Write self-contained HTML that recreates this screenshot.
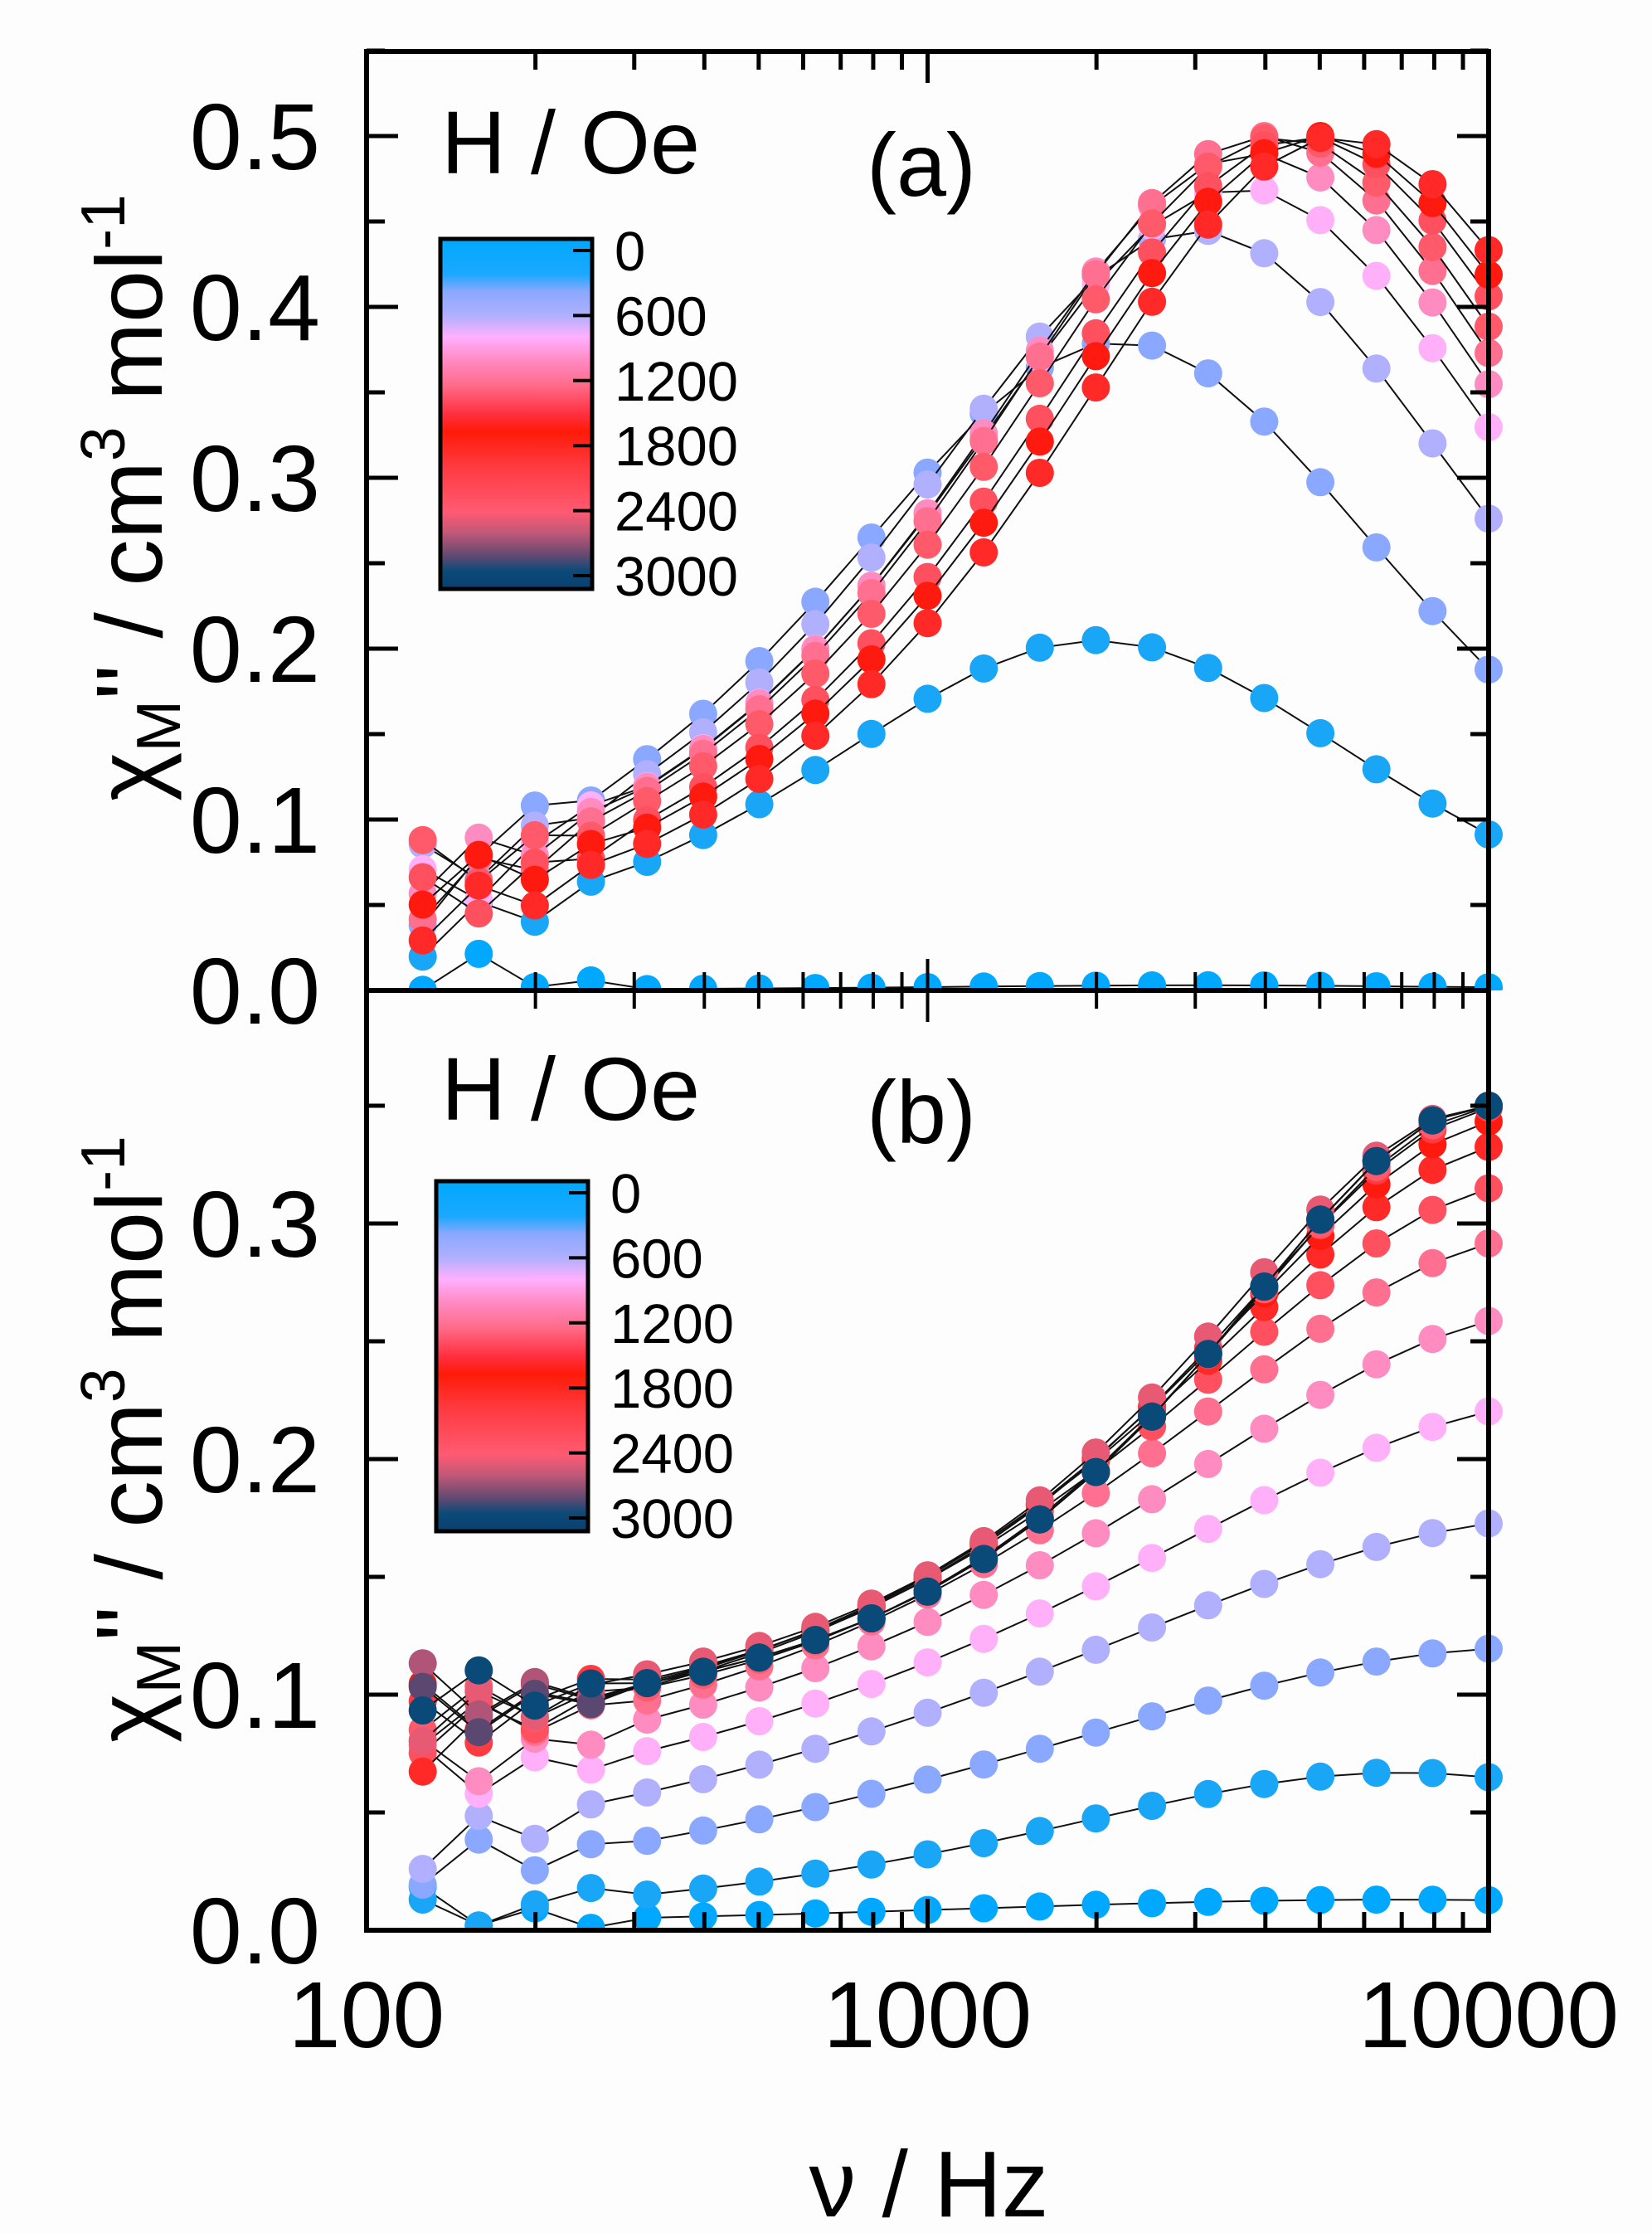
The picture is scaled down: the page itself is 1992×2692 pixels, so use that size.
<!DOCTYPE html>
<html><head><meta charset="utf-8"><style>
html,body{margin:0;padding:0;background:#fdfdfd;}
svg{display:block;font-family:"Liberation Sans",Arial,sans-serif;}
</style></head><body>
<svg id="s" width="1992" height="2692" viewBox="0 0 1992 2692" xmlns="http://www.w3.org/2000/svg">
<defs>
<linearGradient id="cb" x1="0" y1="0" x2="0" y2="1">
<stop offset="0" stop-color="#00a8ff"/><stop offset="0.1" stop-color="#1aa8ff"/>
<stop offset="0.15" stop-color="#8aa8ff"/><stop offset="0.22" stop-color="#b0b0ff"/>
<stop offset="0.28" stop-color="#ffb0ff"/><stop offset="0.35" stop-color="#ff88c0"/>
<stop offset="0.42" stop-color="#ff6a88"/><stop offset="0.5" stop-color="#ff3040"/>
<stop offset="0.55" stop-color="#ff1a08"/><stop offset="0.65" stop-color="#ff3a40"/>
<stop offset="0.78" stop-color="#ff5a72"/><stop offset="0.84" stop-color="#c05878"/>
<stop offset="0.9" stop-color="#6a4a70"/><stop offset="0.95" stop-color="#0a4a78"/>
<stop offset="1" stop-color="#0a4070"/>
</linearGradient>
</defs>
<g id="g"></g>
</svg>
<script>
var L=442,R=1795,T=62,M=1194,B=2327;
var g=document.getElementById('g');var out='';
function X(f){return L+(Math.log10(f)-2)/2*(R-L);}
function sech(x){return 2/(Math.exp(x)+Math.exp(-x));}
var cols=['#00a8ff','#1aa6f6','#8aa8ff','#b0b0ff','#ffb0f8','#ff8cc0','#ff7090','#ff5060','#ff2a28','#ff1a10','#ff3a40','#ff5a6a','#e85a74','#b05478','#5a4870','#0a4a78'];
function series(Y0,scale,P,fc,b,beta,col,seed,nz){
 var pts=[];
 for(var k=1;k<=20;k++){var f=Math.pow(10,2+0.1*k);
  var y=b+(P-b)*sech(beta*Math.log(f/fc));
  if(k<=4){y+=(((seed*7+k*13)%9)-4)*nz*(5-k)/4;}
  if(y<0)y=0.002;
  pts.push([X(f),Y0-y*scale]);}
 var d='M'+pts.map(function(p){return p[0].toFixed(1)+','+p[1].toFixed(1)}).join(' L');
 out+='<path d="'+d+'" fill="none" stroke="#111" stroke-width="2"/>';
 pts.forEach(function(p){ out+='<circle cx="'+p[0].toFixed(1)+'" cy="'+p[1].toFixed(1)+'" r="17" fill="'+col+'"/>';});
}
out+='<defs><clipPath id="c1"><rect x="'+L+'" y="'+T+'" width="'+(R-L+20)+'" height="'+(M-T)+'"/></clipPath><clipPath id="c2"><rect x="'+L+'" y="'+M+'" width="'+(R-L+20)+'" height="'+(B-M)+'"/></clipPath></defs>';
var sT=2060;
var tP=[0.003,0.205,0.38,0.445,0.47,0.49,0.5,0.5,0.5,0.5,0.5];
var tF=[3000,2000,2200,3000,3600,3800,4000,4300,4700,5000,5400];
var tB=[0,0.0,0.01,0.015,0.02,0.02,0.02,0.02,0.015,0.015,0.01];
var tC=[0,1,2,3,4,5,6,11,7,9,8];
out+='<g clip-path="url(#c1)">';
for(var i=0;i<tP.length;i++)series(M,sT,tP[i],tF[i],tB[i],0.9,cols[tC[i]],i,0.007);
out+='</g>';
var sB=2840;
var bP=[0.013,0.067,0.12,0.175,0.225,0.263,0.295,0.318,0.335,0.345,0.35,0.35,0.35,0.35,0.35,0.35];
var bF=[7000,7000,12000,14000,15000,14000,13000,12500,12000,11500,11000,10500,10000,10000,10000,10000];
var bBe=[0.5,0.7,0.5,0.5,0.55,0.6,0.65,0.7,0.75,0.8,0.85,0.9,0.9,0.95,0.95,0.95];
var bB=[0,0,0,0.01,0.03,0.045,0.055,0.065,0.07,0.075,0.08,0.08,0.085,0.085,0.085,0.085];
out+='<g clip-path="url(#c2)">';
for(var i=0;i<16;i++)series(B,sB,bP[i],bF[i],bB[i],bBe[i],cols[i],i+3,0.005);
out+='</g>';
out+='<rect x="'+L+'" y="'+T+'" width="'+(R-L)+'" height="'+(B-T)+'" fill="none" stroke="#000" stroke-width="6"/>';
out+='<line x1="'+L+'" y1="'+M+'" x2="'+R+'" y2="'+M+'" stroke="#000" stroke-width="6"/>';
for(var e=2;e<=3;e++)for(var m=1;m<=10;m++){var f=m*Math.pow(10,e);if(f>10000)continue;var x=X(f);var len=(m==1||m==10)?38:22;
 out+='<line x1="'+x+'" y1="'+B+'" x2="'+x+'" y2="'+(B-len)+'" stroke="#000" stroke-width="5"/>';
 out+='<line x1="'+x+'" y1="'+T+'" x2="'+x+'" y2="'+(T+len)+'" stroke="#000" stroke-width="5"/>';
 out+='<line x1="'+x+'" y1="'+M+'" x2="'+x+'" y2="'+(M-len)+'" stroke="#000" stroke-width="4"/>';
 out+='<line x1="'+x+'" y1="'+M+'" x2="'+x+'" y2="'+(M+len)+'" stroke="#000" stroke-width="4"/>';}
for(var j=0;j<=11;j++){var v=j*0.05;var y=M-v*sT;var big=j%2==0;var len=big?38:22;
 out+='<line x1="'+L+'" y1="'+y+'" x2="'+(L+len)+'" y2="'+y+'" stroke="#000" stroke-width="5"/>';
 out+='<line x1="'+R+'" y1="'+y+'" x2="'+(R-len)+'" y2="'+y+'" stroke="#000" stroke-width="5"/>';
 if(big)out+='<text x="386" y="'+(y+40)+'" font-size="113" text-anchor="end">'+v.toFixed(1)+'</text>';}
for(var j=0;j<=7;j++){var v=j*0.05;var y=B-v*sB;var big=j%2==0;var len=big?38:22;
 out+='<line x1="'+L+'" y1="'+y+'" x2="'+(L+len)+'" y2="'+y+'" stroke="#000" stroke-width="5"/>';
 out+='<line x1="'+R+'" y1="'+y+'" x2="'+(R-len)+'" y2="'+y+'" stroke="#000" stroke-width="5"/>';
 if(big)out+='<text x="386" y="'+(y+40)+'" font-size="113" text-anchor="end">'+v.toFixed(1)+'</text>';}
[[100,'100'],[1000,'1000'],[10000,'10000']].forEach(function(a){out+='<text x="'+X(a[0])+'" y="2468" font-size="113" text-anchor="middle">'+a[1]+'</text>';});
out+='<text x="1120" y="2672" font-size="113" text-anchor="middle">ν / Hz</text>';
function ytitle(cy){out+='<text transform="translate(195,'+cy+') rotate(-90)" font-size="113" text-anchor="middle">χ<tspan font-size="75" dy="22">M</tspan><tspan dy="-22">\'\' / cm</tspan><tspan font-size="75" dy="-45">3</tspan><tspan dy="45"> mol</tspan><tspan font-size="75" dy="-45">-1</tspan></text>';}
ytitle(600);ytitle(1735);
function legend(y0,bx,by,bh,lbl,ly){
 out+='<text x="532" y="'+y0+'" font-size="108">H / Oe</text>';
 out+='<text x="'+lbl[0]+'" y="'+ly+'" font-size="108">'+lbl[1]+'</text>';
 out+='<rect x="'+bx+'" y="'+by+'" width="183" height="'+bh+'" fill="url(#cb)" stroke="#000" stroke-width="5"/>';
 var labs=['0','600','1200','1800','2400','3000'];
 for(var i=0;i<6;i++){var y=by+14+i*(bh-30)/5;
  out+='<line x1="'+(bx+183)+'" y1="'+y+'" x2="'+(bx+160)+'" y2="'+y+'" stroke="#000" stroke-width="4"/>';
  out+='<text x="'+(bx+210)+'" y="'+(y+24)+'" font-size="67">'+labs[i]+'</text>';}
}
legend(209,531,288,422,[1045,'(a)'],236);
legend(1350,526,1424,422,[1045,'(b)'],1378);
g.innerHTML=out;
</script>
</body></html>
